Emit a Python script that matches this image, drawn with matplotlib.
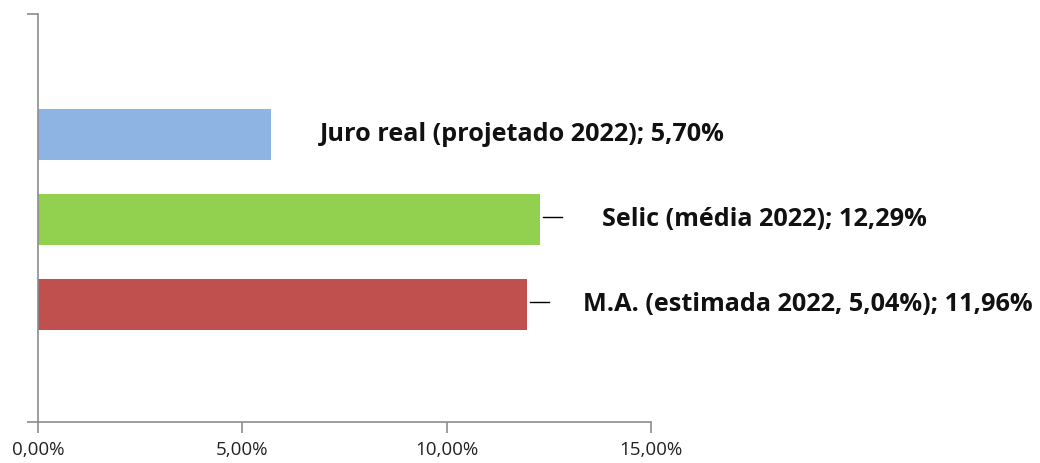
import matplotlib.pyplot as plt
from matplotlib.ticker import FuncFormatter

categories = ["M.A. (estimada 2022, 5,04%)", "Selic (média 2022)", "Juro real (projetado 2022)"]
values = [11.96, 12.29, 5.70]
colors = ["#C0504D", "#92D050", "#8EB4E3"]
value_labels = ["11,96%", "12,29%", "5,70%"]
xticks = [0, 5, 10, 15]

plt.rcParams["font.family"] = ["Open Sans", "DejaVu Sans"]

fig = plt.figure(figsize=(10.4, 4.63), dpi=100)
ax = fig.add_axes([0.0365, 0.0886, 0.5894, 0.8812])

pos = list(range(len(categories)))
ax.barh(pos, values, height=0.6, color=colors)

ax.set_xlim(0, 15)
ax.set_ylim(-1.38, 3.42)
ax.set_xticks(xticks)
ax.xaxis.set_major_formatter(FuncFormatter(lambda v, p: f"{v:.2f}%".replace(".", ",")))
ax.set_yticks([-1.38, 3.42])
ax.set_yticklabels([])

for s in ["top", "right"]:
    ax.spines[s].set_visible(False)
for s in ["left", "bottom"]:
    ax.spines[s].set_color("#8c8c8c")
    ax.spines[s].set_linewidth(1.2)
ax.tick_params(axis="x", direction="out", length=8, width=1.2, color="#8c8c8c",
               labelsize=13.5, labelcolor="#222222", pad=6)
ax.tick_params(axis="y", direction="out", length=8, width=1.2, color="#8c8c8c")

# data labels, placed to the right of each bar
label_x = [13.34, 13.8, 6.9]
leader = [True, True, False]
for i, (cat, v, lab) in enumerate(zip(categories, values, value_labels)):
    ax.text(label_x[i], i, f"{cat}; {lab}", va="center", ha="left",
            fontsize=18.2, fontweight="bold", color="#111111", clip_on=False)
    if leader[i]:
        ax.plot([v + 0.08, v + 0.54], [i + 0.03, i + 0.03], color="black", lw=1,
                clip_on=False)

fig.savefig("out.png", dpi=100)
